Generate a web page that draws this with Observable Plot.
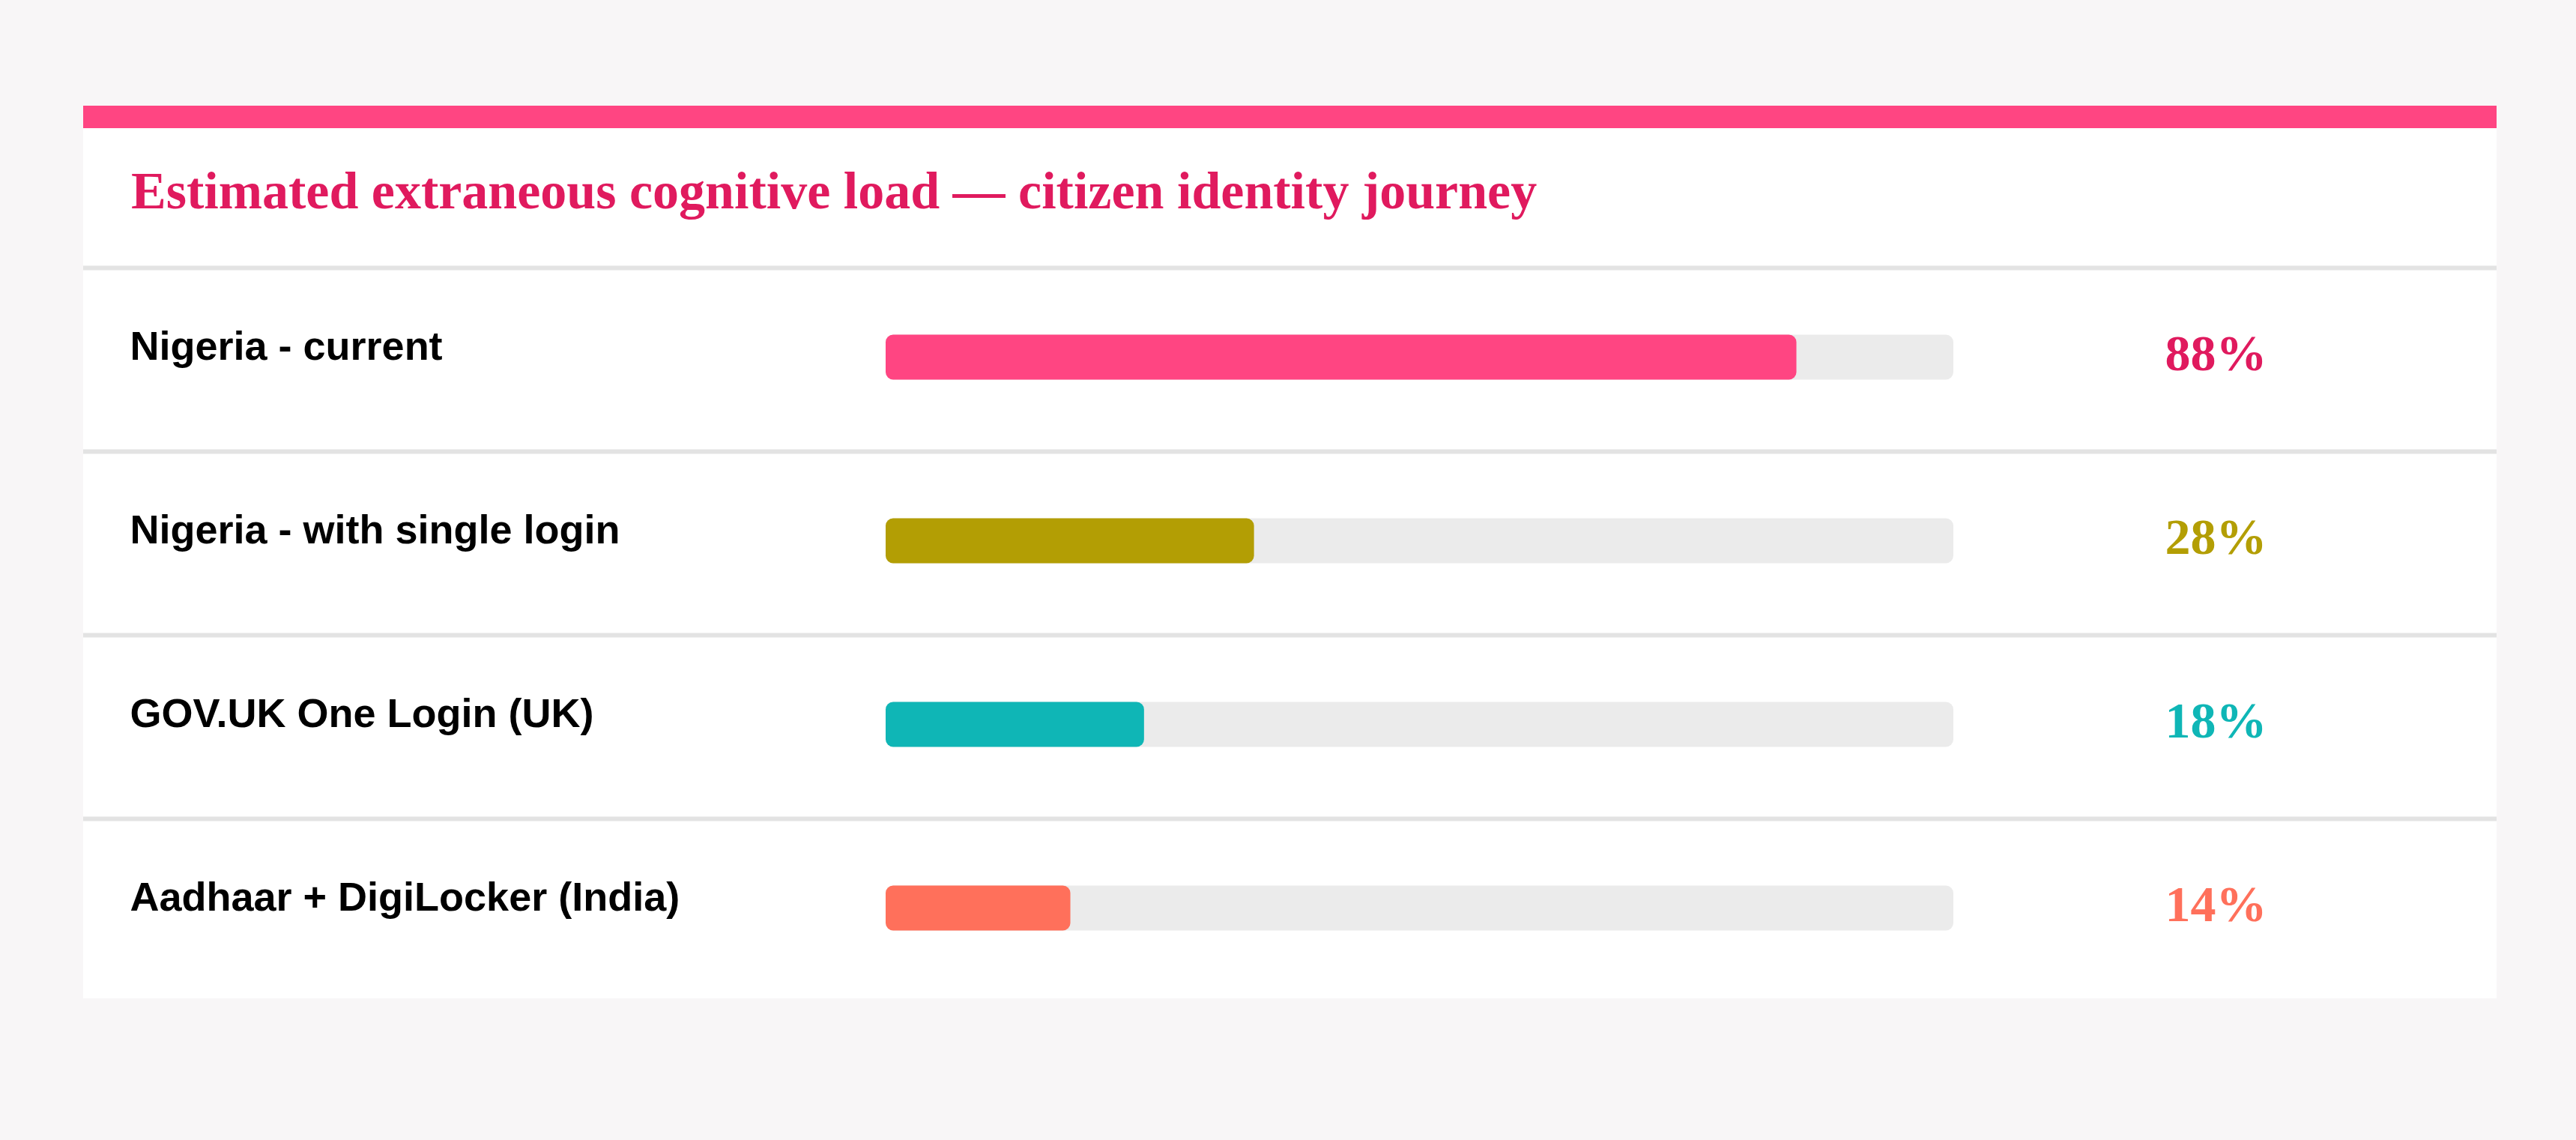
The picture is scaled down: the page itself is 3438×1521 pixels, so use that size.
<!DOCTYPE html>
<html>
<head>
<meta charset="utf-8">
<script src="https://cdn.jsdelivr.net/npm/d3@7"></script>
<script src="https://cdn.jsdelivr.net/npm/@observablehq/plot@0.6"></script>
<style>
  html, body { margin: 0; padding: 0; background: #f8f6f7; }
  #card { position: absolute; left: 111px; top: 141px; width: 3221px; background: #ffffff; }
  #topbar { height: 30px; background: #ff4582; }
  #title { height: 183px; position: relative; }
  #title span {
    position: absolute; left: 64px; top: 49px;
    font-family: "Liberation Serif", serif; font-weight: bold; font-size: 70px;
    line-height: 1; color: #e01a5e; white-space: nowrap;
  }
  #chart svg { display: block; }
</style>
</head>
<body>
<div id="card">
  <div id="topbar"></div>
  <div id="title"><span>Estimated extraneous cognitive load — citizen identity journey</span></div>
  <div id="chart"></div>
</div>
<script>
// ---- data ----
const categories = [
  "Nigeria - current",
  "Nigeria - with single login",
  "GOV.UK One Login (UK)",
  "Aadhaar + DigiLocker (India)"
];
const barValues = [85.3, 34.5, 24.2, 17.3];   // bar length, % of track
const pctLabels = [88, 28, 18, 14];           // displayed value labels

// ---- palette ----
const barColors  = ["#ff4582", "#b39e04", "#0fb6b6", "#ff705b"];
const textColors = ["#e01a5e", "#b39e04", "#0fb6b6", "#ff705b"];

const rows = categories.map((c, i) => ({
  name: c, value: barValues[i], pct: pctLabels[i], bar: barColors[i], ink: textColors[i]
}));

const W = 3221, H = 978, BAND = 245;

const chart = Plot.plot({
  width: W,
  height: H,
  marginLeft: 0, marginRight: 0, marginTop: 0, marginBottom: 0,
  x: {domain: [0, 100], range: [1071, 2496], axis: null},
  y: {domain: categories, range: [0, BAND * categories.length], padding: 0, axis: null},
  style: {background: "#ffffff"},
  marks: [
    // row separators at top of each band
    Plot.ruleY(categories, {y: d => d, dy: -BAND / 2 + 3, stroke: "#e3e3e3", strokeWidth: 6}),
    // track
    Plot.barX(rows, {y: "name", x1: 0, x2: 100, fill: "#ebebeb", rx: 10, insetTop: 92.5, insetBottom: 92.5}),
    // value bar
    Plot.barX(rows, {y: "name", x1: 0, x2: "value", fill: "bar", rx: 10, insetTop: 92.5, insetBottom: 92.5}),
    // category labels
    Plot.text(rows, {
      y: "name", text: "name", frameAnchor: "left", dx: 62, dy: 3,
      textAnchor: "start", lineAnchor: "bottom",
      fontFamily: "'Liberation Sans', Arial, sans-serif", fontWeight: "bold", fontSize: 54, fill: "#000000"
    }),
    // percent labels
    Plot.text(rows, {
      y: "name", text: d => d.pct + "%", frameAnchor: "left", dx: 2778, dy: 16.5,
      textAnchor: "start", lineAnchor: "bottom",
      fontFamily: "'Liberation Serif', serif", fontWeight: "bold", fontSize: 68, fill: "ink"
    })
  ]
});
document.getElementById("chart").appendChild(chart);
</script>
</body>
</html>
